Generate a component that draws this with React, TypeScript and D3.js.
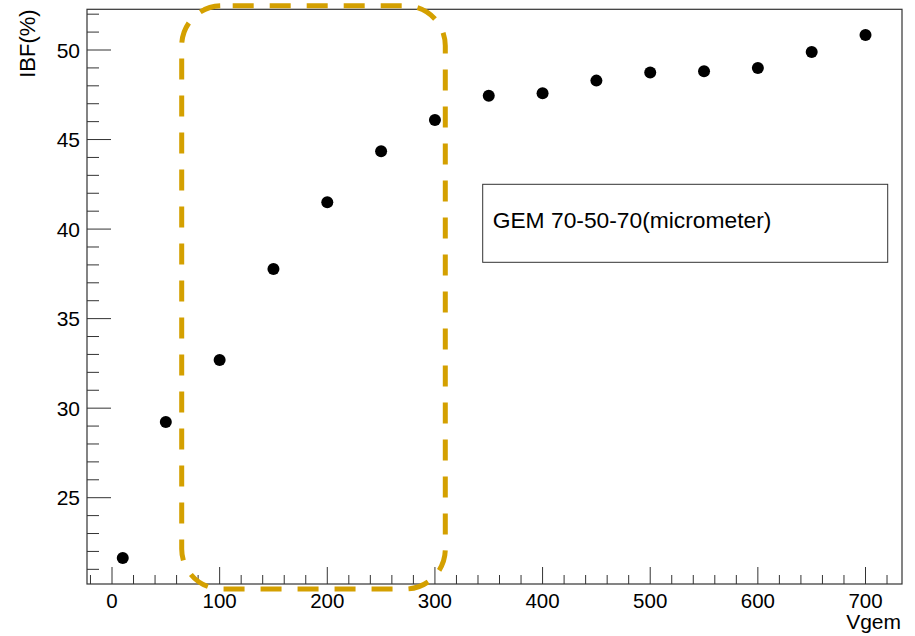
import React from "react";
import * as d3 from "d3";

const vgem = [10, 50, 100, 150, 200, 250, 300, 350, 400, 450, 500, 550, 600, 650, 700];
const ibf = [21.63, 29.23, 32.69, 37.77, 41.5, 44.35, 46.09, 47.45, 47.58, 48.29, 48.75, 48.81, 48.99, 49.89, 50.84];
const xMajor = [0, 100, 200, 300, 400, 500, 600, 700];
const yMajor = [25, 30, 35, 40, 45, 50];
const legendText = "GEM 70-50-70(micrometer)";
const xTitle = "Vgem";
const yTitle = "IBF(%)";

const W = 915, H = 636;
const L = 87, R = 902, T = 9.3, B = 584;
const FONT = "'Liberation Sans', Arial, Helvetica, sans-serif";

export default function App() {
  const x = d3.scaleLinear().domain([0, 700]).range([112, 865.5]);
  x.domain([x.invert(L), x.invert(R)]).range([L, R]);
  const y = d3.scaleLinear().domain([25, 50]).range([497.7, 50]);
  y.domain([y.invert(B), y.invert(T)]).range([B, T]);

  const xMinor = d3.range(-20, 721, 20).filter((v) => v % 100 !== 0);
  const yMinor = d3.range(21, 53, 1).filter((v) => v % 5 !== 0);
  const col = "#333";

  return (
    <svg width={W} height={H} style={{ position: "absolute", left: 0, top: 0, background: "#fff" }}>
      <rect x={0} y={0} width={W} height={H} fill="#fff" />
      {/* frame */}
      <rect x={L} y={T} width={R - L} height={B - T} fill="none" stroke={col} strokeWidth={1.2} />
      {/* x ticks */}
      {xMajor.map((v) => (
        <line key={"xm" + v} x1={x(v)} x2={x(v)} y1={B} y2={B - 17} stroke={col} strokeWidth={1} />
      ))}
      {xMinor.map((v) => (
        <line key={"xn" + v} x1={x(v)} x2={x(v)} y1={B} y2={B - 9} stroke={col} strokeWidth={1} />
      ))}
      {xMajor.map((v) => (
        <text key={"xl" + v} x={x(v)} y={607.5} textAnchor="middle" fontFamily={FONT} fontSize={20.5} fill="#000">
          {v}
        </text>
      ))}
      {/* y ticks */}
      {yMajor.map((v) => (
        <line key={"ym" + v} x1={L} x2={L + 24} y1={y(v)} y2={y(v)} stroke={col} strokeWidth={1} />
      ))}
      {yMinor.map((v) => (
        <line key={"yn" + v} x1={L} x2={L + 12} y1={y(v)} y2={y(v)} stroke={col} strokeWidth={1} />
      ))}
      {yMajor.map((v) => (
        <text key={"yl" + v} x={80} y={y(v) + 7.5} textAnchor="end" fontFamily={FONT} fontSize={21} fill="#000">
          {v}
        </text>
      ))}
      {/* titles */}
      <text x={901} y={629} textAnchor="end" fontFamily={FONT} fontSize={21} fill="#000">
        {xTitle}
      </text>
      <text
        transform={`translate(34.5, ${T}) rotate(-90)`}
        textAnchor="end"
        fontFamily={FONT}
        fontSize={22}
        fill="#000"
      >
        {yTitle}
      </text>
      {/* legend */}
      <rect x={482.7} y={184.3} width={405} height={78} fill="#fff" stroke={col} strokeWidth={1} />
      <text x={492.7} y={227.5} fontFamily={FONT} fontSize={22.8} fill="#000">
        {legendText}
      </text>
      {/* points */}
      {vgem.map((v, i) => (
        <circle key={"p" + v} cx={x(v)} cy={y(ibf[i])} r={6} fill="#000" />
      ))}
      {/* highlight */}
      <rect
        x={181.7}
        y={5.8}
        width={263.6}
        height={583.2}
        rx={40}
        ry={40}
        fill="none"
        stroke="#d4a000"
        strokeWidth={5}
        strokeDasharray="21 16"
        strokeDashoffset={26}
      />
    </svg>
  );
}
